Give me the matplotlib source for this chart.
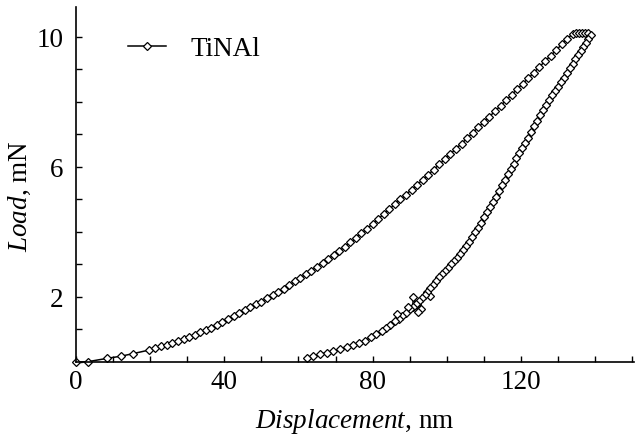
import numpy as np
import matplotlib
matplotlib.use('Agg')
import matplotlib.pyplot as plt
from matplotlib.ticker import MultipleLocator

plt.rcParams['font.family'] = ['Liberation Serif', 'DejaVu Serif']
plt.rcParams['mathtext.fontset'] = 'custom'
plt.rcParams['mathtext.rm'] = 'Liberation Serif'
plt.rcParams['mathtext.it'] = 'Liberation Serif:italic'

# loading branch (nm, mN)
load_h = [0, 3.2, 8.3, 12.2, 15.5, 19.8, 21.4, 23.0, 24.5, 26.0, 27.5, 29.0,
          30.5, 32.0, 33.5, 35.0, 36.5, 38.0, 39.5, 41.0, 42.5, 44.0, 45.5,
          47.0, 48.5, 50.0, 51.5, 53.0, 54.5, 56.0, 57.5, 59.0, 60.5, 62.0,
          63.5, 65.0, 66.5, 68.0, 69.5, 71.0, 72.5, 74.0, 75.5, 77.0, 78.5,
          80.0, 81.5, 83.0, 84.5, 86.0, 87.5, 89.0, 90.5, 92.0, 93.5, 95.0,
          96.5, 98.0, 99.5, 101.0, 102.5, 104.0, 105.5, 107.0, 108.5, 110.0,
          111.5, 113.0, 114.5, 116.0, 117.5, 119.0, 120.5, 122.0, 123.5,
          125.0, 126.5, 128.0, 129.5, 131.0, 132.5, 134.0, 134.8, 135.6,
          136.4, 137.2, 138.0]
load_p = [0, 0.01, 0.11, 0.18, 0.26, 0.37, 0.43, 0.48, 0.53, 0.59, 0.65, 0.71,
          0.78, 0.84, 0.91, 0.98, 1.06, 1.14, 1.22, 1.31, 1.41, 1.50, 1.59,
          1.68, 1.77, 1.86, 1.96, 2.06, 2.16, 2.26, 2.37, 2.48, 2.59, 2.70,
          2.81, 2.93, 3.05, 3.17, 3.29, 3.42, 3.54, 3.68, 3.81, 3.96, 4.10,
          4.25, 4.40, 4.55, 4.70, 4.85, 5.00, 5.15, 5.30, 5.45, 5.61, 5.76,
          5.92, 6.08, 6.24, 6.40, 6.56, 6.72, 6.88, 7.05, 7.22, 7.38, 7.55,
          7.71, 7.88, 8.05, 8.22, 8.39, 8.56, 8.73, 8.90, 9.08, 9.25, 9.42,
          9.59, 9.77, 9.94, 10.10, 10.12, 10.12, 10.12, 10.12, 10.12]

# unloading branch
unload_h = [138.8, 138.2, 137.5, 136.8, 136.1, 135.4, 134.7, 134.0, 133.2,
            132.4, 131.6, 130.8, 130.0, 129.2, 128.4, 127.6, 126.8, 126.0,
            125.2, 124.4, 123.6, 122.8, 122.0, 121.2, 120.4, 119.6, 118.8,
            118.0, 117.2, 116.4, 115.6, 114.8, 114.0, 113.2, 112.4, 111.6,
            110.8, 110.0, 109.2, 108.4, 107.6, 106.8, 106.0, 105.2, 104.4,
            103.6, 102.8, 102.0, 101.2, 100.4, 99.6, 98.8, 98.0, 97.2, 96.4,
            95.6, 95.5, 94.8, 94.0, 93.2, 93.0, 92.4, 92.2, 91.6, 91.0, 90.8,
            90.0, 89.5, 89.0, 88.0, 87.0, 86.5, 86.0, 84.8, 83.6, 82.4, 81.0,
            79.6, 78.0, 76.4, 74.8, 73.0, 71.2, 69.4, 67.6, 65.8, 64.0, 62.3]
unload_p = [10.05, 9.94, 9.82, 9.69, 9.57, 9.44, 9.31, 9.18, 9.04,
            8.89, 8.74, 8.60, 8.45, 8.33, 8.21, 8.07, 7.91, 7.75,
            7.59, 7.42, 7.25, 7.07, 6.90, 6.74, 6.58, 6.42, 6.26,
            6.10, 5.94, 5.78, 5.61, 5.44, 5.27, 5.09, 4.93, 4.77,
            4.61, 4.45, 4.29, 4.13, 3.99, 3.83, 3.68, 3.56, 3.44,
            3.32, 3.21, 3.10, 3.00, 2.90, 2.80, 2.70, 2.60, 2.49, 2.38,
            2.27, 2.02, 2.16, 2.05, 1.96, 1.62, 1.87, 1.55, 1.79, 2.00, 1.70,
            1.62, 1.70, 1.52, 1.42, 1.33, 1.48, 1.25, 1.15, 1.05, 0.96, 0.86,
            0.76, 0.66, 0.59, 0.53, 0.46, 0.39, 0.34, 0.29, 0.24, 0.19, 0.13]

h = load_h + unload_h
p = load_p + unload_p

fig = plt.figure(figsize=(6.37, 4.35), dpi=100)
ax = fig.add_axes([76/637, 72/435, 558/637, 355/435])

ax.plot(h, p, color='k', lw=1.1, marker='D', ms=3.8, mfc='white',
        mec='k', mew=0.9, clip_on=False, label='TiNAl')

ax.set_xlim(0, 150.5)
ax.set_ylim(0, 10.92)
ax.xaxis.set_major_locator(MultipleLocator(40))
ax.xaxis.set_minor_locator(MultipleLocator(10))
ax.yaxis.set_minor_locator(MultipleLocator(1))
ax.set_yticks([2, 6, 10])

for s in ['top', 'right']:
    ax.spines[s].set_visible(False)
for s in ['left', 'bottom']:
    ax.spines[s].set_linewidth(1.2)

ax.tick_params(which='both', direction='in', length=4, width=1.0,
               labelsize=19.5)
ax.tick_params(axis='x', pad=5)
ax.tick_params(axis='y', pad=9)

ax.set_xlabel(r'$\mathit{Displacement}$, nm', fontsize=19.5, labelpad=9)
ax.set_ylabel(r'$\mathit{Load}$, mN', fontsize=19.5)
ax.yaxis.set_label_coords(-0.077, 0.47)

ax.legend(loc='center left', bbox_to_anchor=(0.093, 0.882), frameon=False,
          borderpad=0, borderaxespad=0, handlelength=1.4, handletextpad=0.9,
          fontsize=19.5)

fig.savefig('out.png', dpi=100)
